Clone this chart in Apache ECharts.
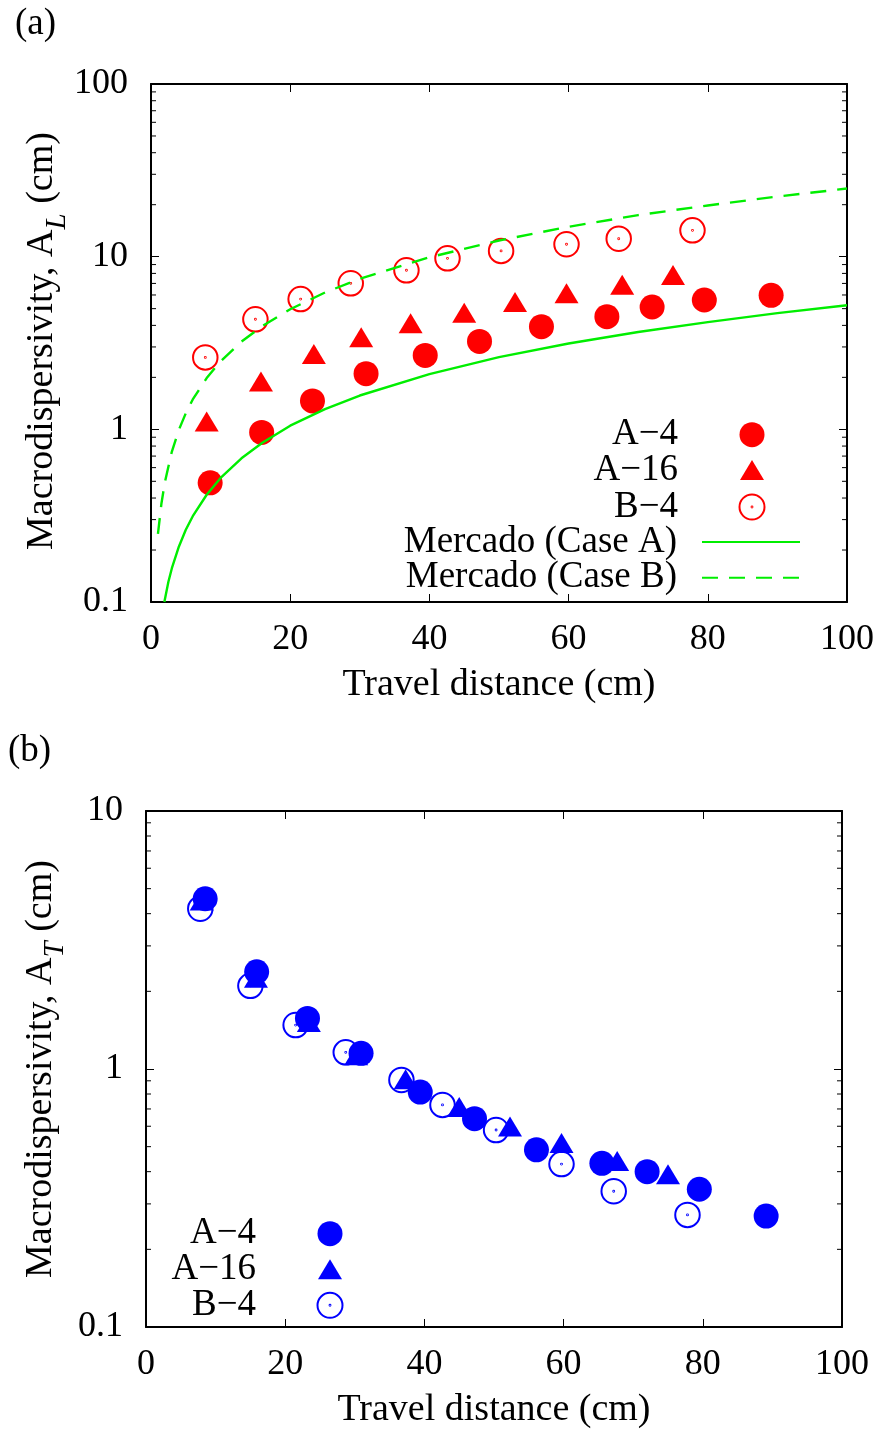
<!DOCTYPE html>
<html>
<head>
<meta charset="utf-8">
<script src="https://cdn.jsdelivr.net/npm/echarts@6/dist/echarts.min.js"></script>
<style>
  html, body { margin: 0; padding: 0; background: #fff; }
  #chart { width: 882px; height: 1430px; }
</style>
</head>
<body>
<div id="chart"></div>
<script>
// Travel distance (cm) of each measurement, per experiment
const a4X  = [8.5, 15.9, 23.2, 30.9, 39.4, 47.2, 56.1, 65.5, 72.0, 79.5, 89.1];
const a16X = [8.0, 15.8, 23.4, 30.2, 37.3, 45.0, 52.3, 59.7, 67.7, 75.0];
const b4X  = [7.8, 15.0, 21.5, 28.7, 36.7, 42.6, 50.3, 59.7, 67.2, 77.8];

// Longitudinal macrodispersivity A_L (cm)
const a4Long  = [0.49, 0.96, 1.46, 2.10, 2.68, 3.23, 3.93, 4.49, 5.11, 5.61, 5.97];
const a16Long = [1.11, 1.89, 2.73, 3.41, 4.11, 4.73, 5.46, 6.13, 6.88, 7.83];
const b4Long  = [2.61, 4.34, 5.68, 7.01, 8.34, 9.78, 10.8, 11.8, 12.7, 14.2];

// Transverse macrodispersivity A_T (cm)
const a4Trans  = [4.57, 2.38, 1.57, 1.15, 0.814, 0.642, 0.486, 0.431, 0.400, 0.342, 0.269];
const a16Trans = [4.50, 2.26, 1.52, 1.13, 0.912, 0.713, 0.598, 0.517, 0.440, 0.391];
const b4Trans  = [4.18, 2.10, 1.48, 1.16, 0.907, 0.726, 0.580, 0.428, 0.336, 0.272];

// Mercado stratified-aquifer predictions of A_L
const mercadoAX = [1.92, 2.5, 3, 4, 5, 6, 8, 10, 13, 16, 20, 25, 30, 40, 50, 60, 70, 80, 90, 100];
const mercadoA  = [0.10, 0.131, 0.157, 0.209, 0.262, 0.314, 0.418, 0.523, 0.680, 0.837, 1.05, 1.31, 1.57, 2.09, 2.62, 3.14, 3.66, 4.18, 4.71, 5.23];
const mercadoBX = [1, 1.5, 2, 3, 4, 5, 6, 8, 10, 13, 16, 20, 25, 30, 40, 50, 60, 70, 80, 90, 100];
const mercadoB  = [0.248, 0.372, 0.496, 0.744, 0.992, 1.24, 1.49, 1.98, 2.48, 3.22, 3.97, 4.96, 6.2, 7.44, 9.92, 12.4, 14.9, 17.4, 19.8, 22.3, 24.8];

// Axis tick labels
const xTicks = [0, 20, 40, 60, 80, 100];
const yRangeLong = [0.1, 100];
const yRangeTrans = [0.1, 10];

const FONT = 'Liberation Serif';
const RED = '#ff0000';
const BLUE = '#0000ff';
const GREEN = '#00ee00';
const CLEAR = 'rgba(255,255,255,0)';
const W = 882;

// ring with a centre dot (open circle marker)
const RING = 'path://M0,-10A10,10,0,1,1,0,10A10,10,0,1,1,0,-10ZM0,-0.35A0.35,0.35,0,1,1,0,0.35A0.35,0.35,0,1,1,0,-0.35Z';
const TRI = 'path://M0,-10L12,10L-12,10Z';

const zip = (xs, ys) => xs.map((x, i) => [x, ys[i]]);

// minor tick positions for a log axis (2..9 within every decade)
function minorTicks(lo, hi) {
  const out = [];
  for (let d = lo; d < hi * 0.999; d *= 10) {
    for (let k = 2; k <= 9; k++) out.push([0, +(k * d).toPrecision(3)]);
  }
  return out;
}

function xAxes(grid) {
  const common = {
    gridIndex: grid, type: 'value', min: xTicks[0], max: xTicks[xTicks.length - 1], interval: 20,
    axisLine: { show: true, onZero: false, lineStyle: { color: '#000', width: 2 } },
    axisTick: { show: true, inside: true, length: 8, lineStyle: { color: '#000', width: 1 } },
    splitLine: { show: false }
  };
  return [
    Object.assign({}, common, {
      position: 'bottom',
      axisLabel: { show: true, margin: 20, fontSize: 36, fontFamily: FONT, color: '#000' },
      name: 'Travel distance (cm)', nameLocation: 'middle', nameGap: 64,
      nameTextStyle: { fontSize: 38, fontFamily: FONT, color: '#000' }
    }),
    Object.assign({}, common, { position: 'top', axisLabel: { show: false } })
  ];
}

function yAxes(grid, range) {
  const common = {
    gridIndex: grid, type: 'log', logBase: 10, min: range[0], max: range[1],
    axisLine: { show: true, onZero: false, lineStyle: { color: '#000', width: 2 } },
    axisTick: { show: true, inside: true, length: 8, lineStyle: { color: '#000', width: 1 } },
    splitLine: { show: false }
  };
  return [
    Object.assign({}, common, {
      position: 'left',
      axisLabel: { show: true, margin: 23, fontSize: 36, fontFamily: FONT, color: '#000' }
    }),
    Object.assign({}, common, { position: 'right', axisLabel: { show: false } })
  ];
}

// rotated y-axis title with an italic subscript
function yTitle(sub, cx, cy) {
  return {
    type: 'text', x: cx, y: cy, rotation: Math.PI / 2, silent: true,
    style: {
      text: '{m|Macrodispersivity, A}{s|' + sub + '}{m| (cm)}',
      align: 'center', verticalAlign: 'middle',
      rich: {
        m: { fontSize: 38, fontFamily: FONT, fill: '#000' },
        s: { fontSize: 29, fontFamily: FONT, fontStyle: 'italic', fill: '#000', padding: [29, 0, 0, 0] }
      }
    }
  };
}

function minorTickSeries(xi, yi, data) {
  return {
    type: 'custom', xAxisIndex: xi, yAxisIndex: yi, silent: true, clip: false, z: 5,
    data: data,
    encode: { x: 0, y: 1 },
    renderItem: function (params, api) {
      const v = api.value(1);
      const l = api.coord([xTicks[0], v]);
      const r = api.coord([xTicks[xTicks.length - 1], v]);
      const st = { stroke: '#000', lineWidth: 1 };
      return {
        type: 'group',
        children: [
          { type: 'line', shape: { x1: l[0], y1: l[1], x2: l[0] + 5, y2: l[1] }, style: st },
          { type: 'line', shape: { x1: r[0], y1: r[1], x2: r[0] - 5, y2: r[1] }, style: st }
        ]
      };
    }
  };
}

// one key row: text right-aligned, sample on its right; edge = right end of the drawn sample
function legendRow(name, label, edgeX, centerY, h) {
  return {
    show: true, orient: 'vertical', align: 'right', selectedMode: false,
    right: W - edgeX, top: centerY - 16.5, padding: 0, itemGap: 0,
    itemWidth: 98, itemHeight: h, symbolKeepAspect: true,
    data: [name],
    formatter: function () { return label; },
    textStyle: { fontSize: 37, fontFamily: FONT, color: '#000', lineHeight: 20, padding: [0, 20, 0, 0] }
  };
}

const chart = echarts.init(document.getElementById('chart'), null, { renderer: 'canvas' });

chart.setOption({
  animation: false,
  backgroundColor: '#fff',
  grid: [
    { left: 151, top: 84, width: 696, height: 518 },
    { left: 146, top: 811, width: 696, height: 519 }
  ],
  xAxis: xAxes(0).concat(xAxes(1)),
  yAxis: yAxes(0, yRangeLong).concat(yAxes(1, yRangeTrans)),
  legend: [
    legendRow('A−4 L', 'A−4', 752 + 12.5, 432.7, 25),
    legendRow('A−16 L', 'A−16', 752 + 12, 468, 20),
    legendRow('B−4 L', 'B−4', 752 + 13.5, 505, 25),
    legendRow('Mercado (Case A)', 'Mercado (Case A)', 801, 540, 20),
    legendRow('Mercado (Case B)', 'Mercado (Case B)', 801, 575.7, 20),
    legendRow('A−4 T', 'A−4', 330 + 12.5, 1231.7, 25),
    legendRow('A−16 T', 'A−16', 330 + 12, 1267.3, 20),
    legendRow('B−4 T', 'B−4', 330 + 13.5, 1303.3, 25)
  ],
  graphic: [
    { type: 'text', left: 15, top: 6, style: { text: '(a)', font: '37px "Liberation Serif"', fill: '#000' } },
    { type: 'text', left: 8, top: 733, style: { text: '(b)', font: '37px "Liberation Serif"', fill: '#000' } },
    yTitle('L', 42.5, 341),
    yTitle('T', 41, 1069)
  ],
  series: [
    // panel (a): longitudinal
    { name: 'A−4 L', type: 'scatter', xAxisIndex: 0, yAxisIndex: 0, symbol: 'circle', symbolSize: 25,
      itemStyle: { color: RED, opacity: 1 }, data: zip(a4X, a4Long) },
    { name: 'A−16 L', type: 'scatter', xAxisIndex: 0, yAxisIndex: 0, symbol: TRI, symbolSize: [24, 20],
      itemStyle: { color: RED, opacity: 1 }, data: zip(a16X, a16Long) },
    { name: 'B−4 L', type: 'scatter', xAxisIndex: 0, yAxisIndex: 0, symbol: RING, symbolSize: 24.5,
      itemStyle: { color: CLEAR, borderColor: RED, borderWidth: 2, opacity: 1 }, data: zip(b4X, b4Long) },
    { name: 'Mercado (Case A)', type: 'line', xAxisIndex: 0, yAxisIndex: 0, symbol: 'none',
      lineStyle: { color: GREEN, width: 2.4 }, itemStyle: { color: CLEAR }, data: zip(mercadoAX, mercadoA) },
    { name: 'Mercado (Case B)', type: 'line', xAxisIndex: 0, yAxisIndex: 0, symbol: 'none',
      lineStyle: { color: GREEN, width: 2.4, type: [16, 11] }, itemStyle: { color: CLEAR }, data: zip(mercadoBX, mercadoB) },
    minorTickSeries(0, 0, minorTicks(yRangeLong[0], yRangeLong[1])),

    // panel (b): transverse
    { name: 'B−4 T', type: 'scatter', xAxisIndex: 2, yAxisIndex: 2, symbol: RING, symbolSize: 24.5,
      itemStyle: { color: CLEAR, borderColor: BLUE, borderWidth: 2, opacity: 1 }, data: zip(b4X, b4Trans) },
    { name: 'A−16 T', type: 'scatter', xAxisIndex: 2, yAxisIndex: 2, symbol: TRI, symbolSize: [24, 20],
      itemStyle: { color: BLUE, opacity: 1 }, data: zip(a16X, a16Trans) },
    { name: 'A−4 T', type: 'scatter', xAxisIndex: 2, yAxisIndex: 2, symbol: 'circle', symbolSize: 25,
      itemStyle: { color: BLUE, opacity: 1 }, data: zip(a4X, a4Trans) },
    minorTickSeries(2, 2, minorTicks(yRangeTrans[0], yRangeTrans[1]))
  ]
});
</script>
</body>
</html>
